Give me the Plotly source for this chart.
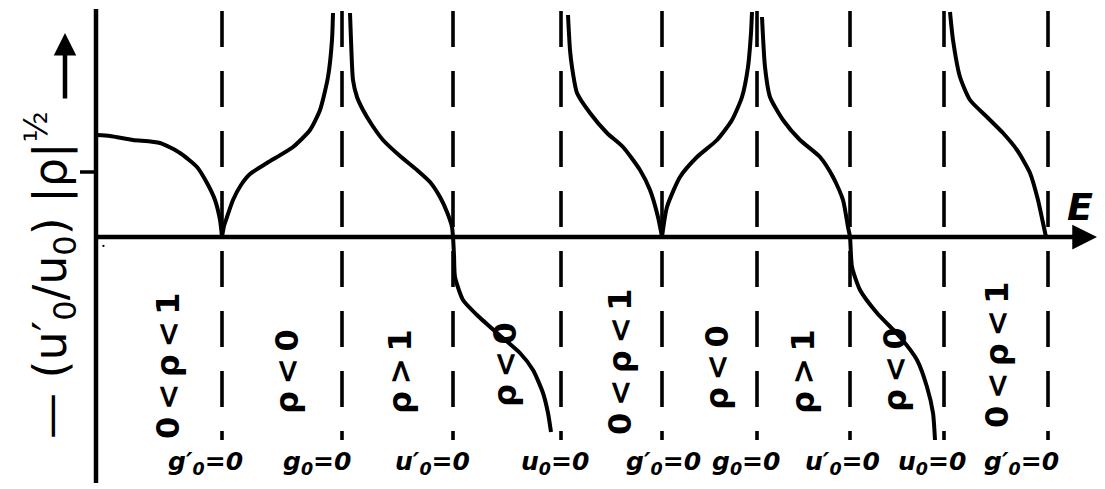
import plotly.graph_objects as go

# Branches of -(u0'/u0)|rho|^(1/2) against energy E (schematic units)
branch_E = [
    [97, 110, 133, 160, 180, 197, 207, 215, 220, 222],
    [222, 224, 227, 233, 241, 250, 267, 293, 310, 320, 328, 332, 333],
    [350, 351, 353, 357, 363, 372, 383, 400, 417, 430, 440, 447, 452, 453,
     454, 455, 463, 477, 497, 520, 533, 543, 548, 551],
    [568, 570, 572, 577, 590, 607, 623, 640, 650, 658, 662],
    [662, 667, 680, 697, 717, 732, 742, 748, 751, 752],
    [762, 765, 770, 783, 800, 820, 833, 843, 848, 850, 852, 860, 877, 900,
     917, 927, 933, 935],
    [950, 953, 960, 970, 987, 1003, 1017, 1030, 1038, 1043, 1046],
]
branch_F = [
    [102, 101, 97, 94, 84, 70, 54, 37, 17, 0],
    [0, 11, 20, 37, 52, 63, 74, 90, 107, 127, 160, 197, 224],
    [224, 197, 157, 140, 127, 112, 97, 81, 67, 55, 40, 25, 10, 0,
     -18, -40, -63, -78, -96, -116, -133, -156, -176, -195],
    [222, 187, 170, 144, 124, 104, 90, 67, 47, 20, 0],
    [0, 30, 60, 80, 97, 117, 140, 170, 204, 225],
    [220, 170, 140, 117, 97, 80, 60, 37, 10, 0, -30, -53, -76, -100,
     -123, -150, -176, -203],
    [225, 197, 160, 137, 120, 104, 87, 64, 37, 14, 0],
]

# Energies where g0', g0, u0', u0 vanish
node_E = [222, 342, 453, 561, 662, 757, 850, 944, 1048]
node_labels = ["g′<sub>0</sub>=0", "g<sub>0</sub>=0", "u′<sub>0</sub>=0", "u<sub>0</sub>=0",
               "g′<sub>0</sub>=0", "g<sub>0</sub>=0", "u′<sub>0</sub>=0", "u<sub>0</sub>=0",
               "g′<sub>0</sub>=0"]
node_label_E = [205, 317, 432, 555, 663, 746, 842, 932, 1021]

# Sign ranges of rho between the nodes
region_labels = ["0<ρ<1", "ρ<0", "ρ>1", "ρ<0", "0<ρ<1", "ρ<0", "ρ>1", "ρ<0", "0<ρ<1"]
region_E = [168, 287, 400, 505, 620, 717, 803, 895, 997]
region_F = [-129, -135, -135, -128, -125, -131, -135, -133, -118]

THIN = "\u2009"

fig = go.Figure()

for E in node_E:
    fig.add_trace(go.Scatter(
        x=[E, E], y=[226, -203], mode="lines",
        line=dict(color="black", width=3.6, dash="36px,24px"),
        hoverinfo="skip", showlegend=False))

for xs, ys in zip(branch_E, branch_F):
    fig.add_trace(go.Scatter(
        x=xs, y=ys, mode="lines", line=dict(color="black", width=4, shape="spline", smoothing=0.6),
        hoverinfo="skip", showlegend=False))

# axes drawn by hand
fig.add_shape(type="line", x0=96, x1=96, y0=228, y1=-246, line=dict(color="black", width=4.5))
fig.add_shape(type="line", x0=80, x1=96, y0=65, y1=65, line=dict(color="black", width=3.5))
fig.add_annotation(x=1097, y=0, ax=96, ay=0, xref="x", yref="y", axref="x", ayref="y",
                   showarrow=True, arrowhead=2, arrowsize=1.1, arrowwidth=4.5, arrowcolor="black", text="")
fig.add_annotation(x=65, y=204, ax=65, ay=137, xref="x", yref="y", axref="x", ayref="y",
                   showarrow=True, arrowhead=2, arrowsize=1.0, arrowwidth=4.5, arrowcolor="black", text="")
fig.add_annotation(x=103, y=-8, text="·", showarrow=False, font=dict(size=18, color="black"))

fig.add_annotation(x=1080, y=30, text="<i>E</i>", showarrow=False,
                   font=dict(family="DejaVu Sans", size=38, color="black", weight="bold"))

fig.add_annotation(x=50, y=-38, text="— (u′<sub>0</sub>/u<sub>0</sub>) |ρ|<sup>½</sup>",
                   textangle=-90, showarrow=False,
                   font=dict(family="DejaVu Sans", size=46, color="black"))

for t, E in zip(node_labels, node_label_E):
    fig.add_annotation(x=E, y=-226, text="<i>" + t + "</i>", showarrow=False,
                       font=dict(family="DejaVu Sans", size=25, color="black", weight="bold"))

for t, E, F in zip(region_labels, region_E, region_F):
    fig.add_annotation(x=E, y=F, text=THIN.join(t), textangle=-90, showarrow=False,
                       font=dict(family="DejaVu Sans", size=32, color="black", weight=600))

fig.update_layout(
    width=1105, height=489, margin=dict(l=0, r=0, t=0, b=0),
    paper_bgcolor="white", plot_bgcolor="white",
    xaxis=dict(range=[0, 1105], visible=False, fixedrange=True),
    yaxis=dict(range=[-252, 237], visible=False, fixedrange=True),
)

fig.write_html("out.html")
